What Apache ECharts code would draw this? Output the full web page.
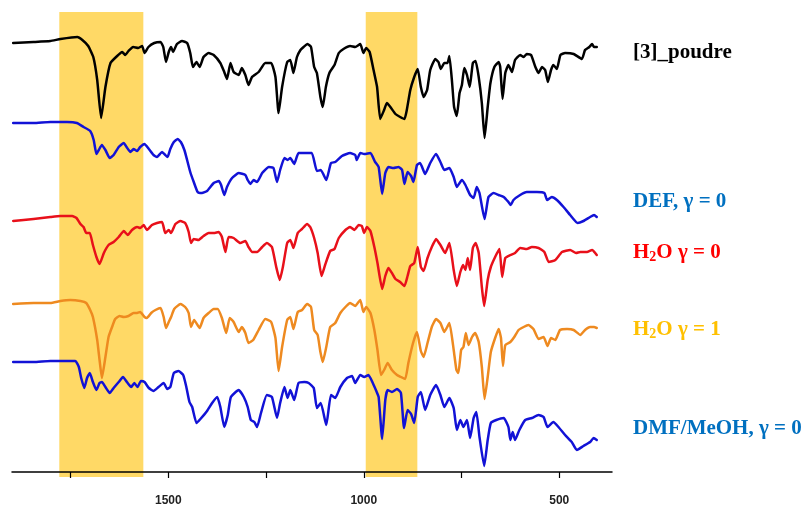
<!DOCTYPE html>
<html>
<head>
<meta charset="utf-8">
<script src="https://cdn.jsdelivr.net/npm/echarts@6/dist/echarts.min.js"></script>
<style>html,body{margin:0;padding:0;background:#fff}#c{width:806px;height:508px}</style>
</head>
<body>
<div id="c"></div>
<script>
// Wavenumber (cm-1) and offset transmittance (arbitrary units) per spectrum
const poudreWn = [1897,1845,1802,1776,1733,1720,1705,1692,1682,1672,1661,1648,1631,1618,1610,1602,1590,1577,1567,1561,1551,1536,1520,1513,1506,1499,1493,1488,1478,1465,1452,1444,1437,1428,1420,1410,1397,1384,1367,1357,1350,1341,1333,1320,1312,1303,1295,1286,1269,1252,1237,1226,1218,1209,1196,
1188,1180,1171,1162,1154,1144,1135,1127,1120,1111,1105,1097,1088,1075,1064,1052,1035,1022,1009,1001,994,985,975,966,958,948,941,932,919,907,896,890,881,871,862,854,847,838,830,817,809,803,794,786,781,774,769,762,755,749,743,736,729,721,714,706,698,691,683,676,666,655,651,645,638,630,621,613,600,591,583,572,561,553,544,536,529,521,515,506,497,485,463,442,434,423,416,411,404];
const poudreT = [429,430,431,433,435,432,426,415,392,354,385,409,416,420,417,421,425,424,426,419,425,429,430,425,410,420,425,420,428,431,429,419,405,410,405,415,419,417,409,400,393,409,400,397,404,397,387,395,400,409,409,395,359,385,410,
412,399,415,422,425,428,425,405,399,375,365,385,399,407,419,423,426,425,428,419,424,420,402,385,353,362,369,365,358,355,353,362,382,395,403,385,375,382,402,413,410,403,409,409,416,389,365,356,379,387,404,397,385,409,411,395,369,334,365,389,405,410,405,373,399,407,400,412,417,415,418,417,405,399,405,402,390,402,407,403,417,419,418,413,422,425,428,425,425];

const defWn = [1897,1845,1802,1759,1734,1717,1700,1691,1684,1678,1670,1661,1650,1640,1627,1614,1607,1597,1589,1580,1572,1561,1550,1538,1529,1516,1508,1502,1495,1486,1476,1468,1459,1452,1444,1435,1425,1414,1401,1384,1371,1365,1357,1350,1337,1320,1303,1297,1290,1282,1273,1260,1243,1231,1222,1214,1203,1195,
1188,1178,1167,1150,1133,1120,1110,1096,1084,1073,1056,1035,1022,1018,1009,999,983,971,962,953,945,937,924,911,902,896,888,879,873,864,856,843,830,815,804,794,781,770,762,749,740,728,719,711,704,691,681,668,655,642,630,624,617,600,583,557,538,531,519,506,489,472,453,438,421,411,404];
const defT = [349,349,350,350,349,345,341,332,318,322,327,322,314,317,325,329,325,320,323,321,325,328,323,317,315,320,317,315,323,330,333,330,322,312,300,290,280,279,281,289,291,287,277,285,294,299,297,292,288,292,290,299,305,304,290,302,314,312,
314,308,319,319,319,301,302,292,309,310,316,319,317,312,319,318,319,310,305,278,299,305,304,305,302,288,300,296,290,307,309,298,309,318,310,302,304,295,285,292,287,277,274,285,279,253,275,279,277,275,270,267,272,277,280,280,279,272,275,272,265,257,249,251,255,257,255];

const h2o0Wn = [1897,1845,1802,1776,1746,1735,1725,1717,1710,1701,1693,1684,1676,1665,1653,1640,1627,1614,1604,1593,1580,1572,1563,1555,1542,1529,1516,1508,1499,1493,1482,1469,1457,1448,1442,1435,1423,1410,1397,1384,1371,1363,1354,1346,1333,1316,1303,1295,1286,1273,1260,1248,1235,1224,1215,1207,1196,
1188,1180,1169,1158,1145,1137,1127,1118,1108,1099,1086,1075,1064,1047,1035,1024,1013,1005,999,992,983,973,965,953,945,937,928,919,907,896,888,881,871,862,854,847,837,826,815,804,792,781,770,762,753,746,740,734,728,721,714,706,698,692,683,675,664,653,646,638,625,613,600,583,570,553,538,527,510,493,472,457,446,429,416,404];
const h2o0T = [251,253,255,256,256,254,248,245,239,239,227,215,208,219,227,230,235,241,237,242,245,244,247,242,247,249,250,239,242,239,248,251,249,240,229,233,232,236,239,239,240,235,220,235,234,229,231,225,220,220,225,229,225,205,192,205,229,
232,224,239,243,248,245,234,219,196,207,221,223,234,242,245,242,247,246,239,245,241,225,209,183,196,204,199,193,190,186,196,206,209,225,205,201,214,225,233,227,219,229,202,186,200,207,202,214,202,224,229,219,185,166,192,205,215,223,195,214,217,219,224,223,225,224,220,210,212,220,222,219,220,220,222,217];

const h2o1Wn = [1897,1845,1802,1776,1751,1725,1710,1700,1693,1682,1676,1670,1661,1653,1644,1636,1625,1614,1602,1589,1580,1572,1561,1555,1544,1533,1520,1512,1506,1499,1493,1485,1469,1457,1448,1442,1434,1420,1410,1397,1384,1374,1363,1352,1343,1333,1320,1312,1303,1295,1283,1269,1252,1237,1226,1218,1209,1196,
1188,1180,1169,1158,1145,1135,1127,1118,1111,1105,1096,1086,1073,1060,1047,1035,1022,1009,1001,994,983,973,965,956,948,939,928,915,905,894,886,874,864,854,847,837,826,815,804,794,781,770,763,758,751,745,739,732,723,715,706,698,691,683,675,664,655,649,644,638,625,615,604,591,579,566,553,540,530,521,510,498,480,463,446,434,421,411,404];
const h2o1T = [168,169,169,171,172,171,169,162,155,132,112,94,115,135,145,153,156,155,156,159,159,160,155,154,159,162,164,155,144,150,155,163,168,165,159,145,152,144,154,159,163,163,154,139,154,150,140,145,139,129,132,142,153,150,134,101,125,152,
155,143,160,162,168,165,142,137,120,110,125,145,149,159,165,169,166,172,160,165,159,142,122,97,102,109,102,97,95,93,109,129,140,121,115,129,145,153,149,140,149,122,102,99,122,125,139,127,135,139,130,105,73,95,120,134,143,134,106,127,130,135,142,145,147,143,133,135,126,134,132,142,143,142,137,142,145,145,144];

const dmfWn = [1897,1845,1802,1768,1738,1729,1723,1715,1708,1701,1693,1684,1676,1670,1661,1650,1640,1627,1616,1606,1595,1587,1579,1570,1561,1550,1538,1525,1512,1503,1495,1486,1474,1462,1454,1446,1439,1428,1418,1401,1388,1375,1367,1357,1348,1340,1320,1307,1297,1289,1280,1273,1263,1248,1235,1222,1214,1203,1195,
1188,1178,1167,1152,1141,1128,1120,1110,1096,1084,1073,1060,1043,1030,1022,1009,999,988,977,968,962,953,945,939,928,915,905,897,888,879,871,862,854,843,830,815,804,794,781,770,762,753,745,736,728,719,712,704,692,683,675,661,642,630,625,619,613,602,587,570,553,540,530,515,502,485,468,455,438,421,412,404];
const dmfT = [110,110,111,111,111,105,94,84,94,99,90,82,89,90,85,79,84,90,95,90,85,89,85,91,90,84,81,85,89,83,85,99,101,97,85,70,65,49,53,61,69,75,65,45,57,75,82,75,65,52,50,45,59,77,75,54,69,85,74,
82,72,89,90,89,84,64,69,47,77,74,85,94,96,89,97,95,97,89,81,75,33,72,82,80,83,79,44,62,58,49,75,80,62,77,87,77,65,74,64,42,52,45,52,34,54,60,35,6,32,49,52,54,45,32,40,32,42,52,54,57,55,45,50,45,37,30,22,26,30,34,32];

// Highlighted wavenumber bands (cm-1)
const bandRanges = [[1779, 1564], [995, 863]];
// Axis ticks / labels
const tickValues = [500, 750, 1000, 1250, 1500, 1750];
const labelValues = [500, 1000, 1500];
const seriesNames = ['[3]_poudre', 'DEF, γ = 0', 'H2O γ = 0', 'H2O γ = 1', 'DMF/MeOH, γ = 0'];

const zip = (a, b) => a.map((w, i) => [w, b[i]]);
const spectra = [
  {name: seriesNames[0], wn: poudreWn, t: poudreT, color: '#000000'},
  {name: seriesNames[1], wn: defWn, t: defT, color: '#1212D6'},
  {name: seriesNames[2], wn: h2o0Wn, t: h2o0T, color: '#E8101A'},
  {name: seriesNames[3], wn: h2o1Wn, t: h2o1T, color: '#EE8A20'},
  {name: seriesNames[4], wn: dmfWn, t: dmfT, color: '#1212D6'}
];

const chart = echarts.init(document.getElementById('c'), null, {renderer: 'canvas'});
const series = [{
  type: 'line', name: 'bands', data: [], z: 1, silent: true,
  markArea: {
    silent: true,
    itemStyle: {color: '#FFD966', opacity: 1},
    data: bandRanges.map(b => [{xAxis: b[0], yAxis: -5}, {xAxis: b[1], yAxis: 460}])
  }
}].concat(spectra.map(s => ({
  type: 'line', name: s.name, data: zip(s.wn, s.t), showSymbol: false, symbol: 'none',
  smooth: 0.15, z: 4, silent: true,
  lineStyle: {color: s.color, width: 2.5, cap: 'round', join: 'round'}
})));

const labelFont = 'bold 21px "Liberation Serif", "Times New Roman", serif';
const subFont = 'bold 14px "Liberation Serif", "Times New Roman", serif';
const mkText = (y, text, color, rich) => ({
  type: 'text', left: 633, top: y - 12, z: 10,
  style: rich ? {
    text: text, fill: color, font: labelFont,
    rich: {a: {fill: color, font: labelFont}, s: {fill: color, font: subFont, verticalAlign: 'bottom', padding: [9, 0, 0, 0]}}
  } : {text: text, fill: color, font: labelFont}
});

chart.setOption({
  animation: false,
  backgroundColor: '#ffffff',
  grid: {left: 12, right: 194, top: 12, bottom: 31, containLabel: false},
  xAxis: {
    type: 'value', inverse: true, min: 365, max: 1900, z: 5,
    axisLine: {show: true, onZero: true, lineStyle: {color: '#000', width: 1.5}},
    axisTick: {show: true, inside: false, length: 6, customValues: tickValues, lineStyle: {color: '#000', width: 1.2}},
    axisLabel: {show: true, customValues: labelValues, margin: 18, color: '#222', fontSize: 12, fontWeight: 'bold',
      fontFamily: '"Liberation Sans", Arial, sans-serif', formatter: v => String(v)},
    splitLine: {show: false}
  },
  yAxis: {type: 'value', min: -5, max: 460, show: false, splitLine: {show: false}},
  series: series,
  graphic: [
    mkText(54, seriesNames[0], '#000000', false),
    mkText(203, seriesNames[1], '#0070C0', false),
    mkText(254, '{a|H}{s|2}{a|O γ = 0}', '#FF0000', true),
    mkText(331, '{a|H}{s|2}{a|O γ = 1}', '#FFC000', true),
    mkText(430, seriesNames[4], '#0070C0', false)
  ]
});
</script>
</body>
</html>
